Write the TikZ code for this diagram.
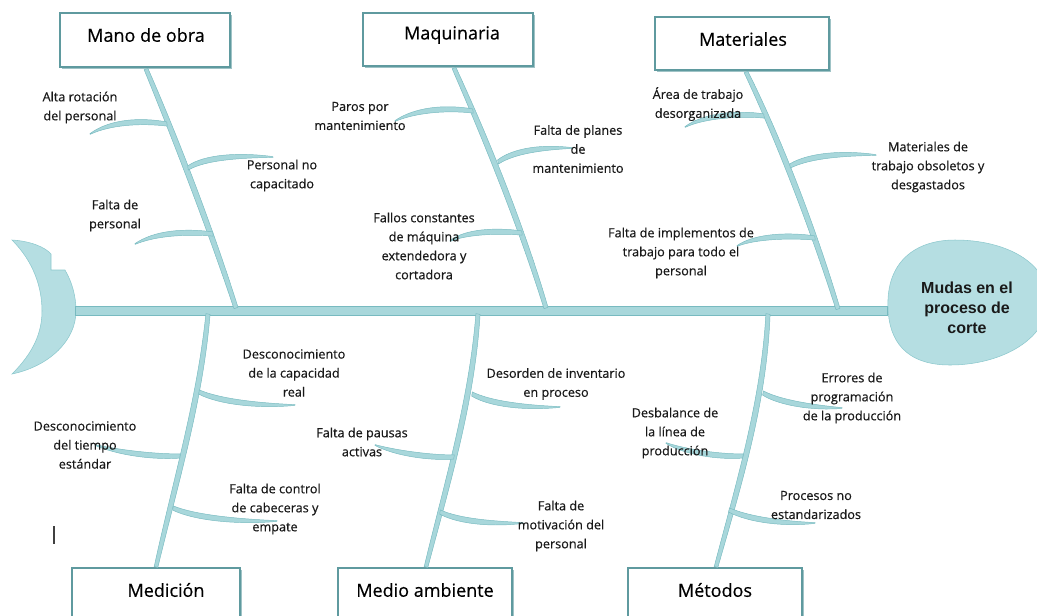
\documentclass[tikz,border=0pt]{standalone}
\usepackage{fontspec}
\setmainfont{Open Sans}
\newfontfamily\causefont[FakeBold=0.5]{Open Sans}
\newfontfamily\headfont{Liberation Sans}
\usetikzlibrary{calc,shadows}
\definecolor{bonefill}{HTML}{A8D7DB}
\definecolor{boneedge}{HTML}{78BAC0}
\definecolor{boxedge}{HTML}{5F9A9F}
\definecolor{shadowc}{HTML}{9FC3C6}
\definecolor{shapefill}{HTML}{B5DEE2}
\definecolor{shapeedge}{HTML}{8CC8CD}
\tikzset{
  bonestyle/.style={fill=bonefill, draw=boneedge, line width=0.35pt, line join=round},
  catbox/.style={rectangle, draw=boxedge, line width=1.1pt, fill=white, inner sep=0pt,
    drop shadow={shadow xshift=1.6pt, shadow yshift=-1.6pt, fill=shadowc, opacity=1}},
  cattext/.style={font=\causefont\fontsize{13.5}{16}\selectfont, inner sep=0pt, text=black},
  cause/.style={font=\causefont\fontsize{9.5}{14.25}\selectfont, align=center, inner sep=0pt, text=black!90},
  headtext/.style={font=\headfont\bfseries\fontsize{12}{15}\selectfont, align=center, inner sep=0pt, text=black!90},
  shapestyle/.style={fill=shapefill, draw=shapeedge, line width=0.4pt},
  spinestyle/.style={draw=boneedge, line width=7pt},
  spinefill/.style={draw=bonefill, line width=5.8pt},
}
% bone: P, C1, C2, Q, half width at P, at controls, at Q (pt)
\newcommand\bone[7]{%
  \filldraw[bonestyle] let \p1=($(#4)-(#1)$), \n1={veclen(\x1,\y1)},
    \p2=({-\y1/\n1},{\x1/\n1}) in
    ($(#1)+#5*(\p2)$) .. controls ($(#2)+#6*(\p2)$) and ($(#3)+#6*(\p2)$) .. ($(#4)+#7*(\p2)$)
    -- ($(#4)-#7*(\p2)$) .. controls ($(#3)-#6*(\p2)$) and ($(#2)-#6*(\p2)$) .. ($(#1)-#5*(\p2)$) -- cycle;}

\begin{document}
\begin{tikzpicture}[x=0.75pt,y=-0.75pt]
\useasboundingbox (0,0) rectangle (1037,615);
\clip (0,0) rectangle (1037,615);

% tail
\path[shapestyle] (12,240) .. controls (30,241) and (45,247) .. (51,254) -- (51,270) -- (65,270)
  .. controls (72,282) and (76,296) .. (76,311) .. controls (76,340) and (50,366) .. (12,374)
  .. controls (34,352) and (42,332) .. (42,311) .. controls (42,288) and (34,262) .. (12,240) -- cycle;
\coordinate (tailend) at (75,311);

% head
\path[shapestyle] (888,308) .. controls (886,262) and (915,240) .. (955,240)
  .. controls (1005,240) and (1048,262) .. (1048,300) .. controls (1048,340) and (1000,365) .. (950,365)
  .. controls (905,365) and (889,340) .. (888,308) -- cycle;
\coordinate (headleft) at (888,311);
\node[headtext] (head) at (967,308) {Mudas en el\\proceso de\\corte};

% spine
\draw[spinestyle] (tailend) -- (headleft);
\draw[spinefill] ($(tailend)+(1,0)$) -- ($(headleft)+(-1,0)$);

% category boxes
\node[catbox, minimum width=127.5pt, minimum height=40.5pt] (b1) at (145,40) {};
\node[catbox, minimum width=127.5pt, minimum height=39.75pt] (b2) at (448,39.5) {};
\node[catbox, minimum width=130.5pt, minimum height=39.75pt] (b3) at (742,43.5) {};
\node[catbox, minimum width=126pt, minimum height=46.5pt] (b4) at (156,599) {};
\node[catbox, minimum width=130.5pt, minimum height=46.5pt] (b5) at (425,599) {};
\node[catbox, minimum width=130.5pt, minimum height=46.5pt] (b6) at (715,599) {};
\node[cattext] (b1t) at (146,35) {Mano de obra};
\node[cattext] (b2t) at (452,35) {Maquinaria};
\node[cattext] (b3t) at (743,39) {Materiales};
\node[cattext] (b4t) at (166,590) {Medición};
\node[cattext] (b5t) at (425,590) {Medio ambiente};
\node[cattext] (b6t) at (715,590) {Métodos};

% main bone end points
\coordinate (m1a) at (146,69);  \coordinate (m1b) at (236,308);
\coordinate (m2a) at (454,68);  \coordinate (m2b) at (546,308);
\coordinate (m3a) at (746,72);  \coordinate (m3b) at (838,309);
\coordinate (m4a) at (208,314); \coordinate (m4b) at (156,567);
\coordinate (m5a) at (478,314); \coordinate (m5b) at (426,567);
\coordinate (m6a) at (768,314); \coordinate (m6b) at (716,567);

\bone{m1a}{174,135}{209,225}{m1b}{1.5}{2.2}{1.6}
\bone{m2a}{484,135}{520,222}{m2b}{1.5}{2.2}{1.6}
\bone{m3a}{778,138}{812,225}{m3b}{1.5}{2.2}{1.6}
\bone{m4a}{200,400}{176,480}{m4b}{1.6}{2.2}{1.4}
\bone{m5a}{472,400}{448,480}{m5b}{1.6}{2.2}{1.4}
\bone{m6a}{764,400}{740,480}{m6b}{1.6}{2.2}{1.4}

% sub bones: junction and free end
\coordinate (s1a) at (167,124);  \coordinate (s1b) at (90,134);
\coordinate (s2a) at (188,168);  \coordinate (s2b) at (273,157);
\coordinate (s3a) at (213,234);  \coordinate (s3b) at (135,244);
\coordinate (s4a) at (473,111);  \coordinate (s4b) at (395,121);
\coordinate (s5a) at (498,162);  \coordinate (s5b) at (572,148);
\coordinate (s6a) at (522,233);  \coordinate (s6b) at (450,241);
\coordinate (s7a) at (764,116);  \coordinate (s7b) at (685,127);
\coordinate (s8a) at (790,166);  \coordinate (s8b) at (876,155);
\coordinate (s9a) at (815,238);  \coordinate (s9b) at (737,246);
\coordinate (s10a) at (199,392); \coordinate (s10b) at (295,405);
\coordinate (s11a) at (180,456); \coordinate (s11b) at (95,445);
\coordinate (s12a) at (173,508); \coordinate (s12b) at (277,521);
\coordinate (s13a) at (472,394); \coordinate (s13b) at (560,407);
\coordinate (s14a) at (454,457); \coordinate (s14b) at (375,445);
\coordinate (s15a) at (440,512); \coordinate (s15b) at (523,523);
\coordinate (s16a) at (763,393); \coordinate (s16b) at (842,408);
\coordinate (s17a) at (743,456); \coordinate (s17b) at (666,443);
\coordinate (s18a) at (729,510); \coordinate (s18b) at (815,523);

\bone{s1a}{140,120}{110,122}{s1b}{1.6}{2.2}{0.3}
\bone{s2a}{205,157}{240,155}{s2b}{1.6}{2.2}{0.3}
\bone{s3a}{185,231}{155,233}{s3b}{1.6}{2.2}{0.3}
\bone{s4a}{445,107}{415,110}{s4b}{1.6}{2.2}{0.3}
\bone{s5a}{515,150}{545,147}{s5b}{1.6}{2.2}{0.3}
\bone{s6a}{495,230}{465,232}{s6b}{1.6}{2.2}{0.3}
\bone{s7a}{740,113}{705,115}{s7b}{1.6}{2.2}{0.3}
\bone{s8a}{810,155}{845,153}{s8b}{1.6}{2.2}{0.3}
\bone{s9a}{790,235}{755,236}{s9b}{1.6}{2.2}{0.3}
\bone{s10a}{220,402}{260,406}{s10b}{1.6}{2.2}{0.3}
\bone{s11a}{155,457}{120,453}{s11b}{1.6}{2.2}{0.3}
\bone{s12a}{195,518}{240,522}{s12b}{1.6}{2.2}{0.3}
\bone{s13a}{490,404}{525,408}{s13b}{1.6}{2.2}{0.3}
\bone{s14a}{430,458}{395,453}{s14b}{1.6}{2.2}{0.3}
\bone{s15a}{460,522}{495,524}{s15b}{1.6}{2.2}{0.3}
\bone{s16a}{780,403}{815,408}{s16b}{1.6}{2.2}{0.3}
\bone{s17a}{718,457}{685,452}{s17b}{1.6}{2.2}{0.3}
\bone{s18a}{750,520}{785,524}{s18b}{1.6}{2.2}{0.3}

% cause labels
\node[cause] (t1) at (80,107.5) {Alta rotación\\del personal};
\node[cause] (t2) at (282,175.5) {Personal no\\capacitado};
\node[cause] (t3) at (115,215.5) {Falta de\\personal};
\node[cause] (t4) at (360,116) {Paros por\\mantenimiento};
\node[cause] (t5) at (578,149) {Falta de planes\\de\\mantenimiento};
\node[cause] (t6) at (424,246) {Fallos constantes\\de máquina\\extendedora y\\cortadora};
\node[cause] (t7) at (698,104) {Área de trabajo\\desorganizada};
\node[cause] (t8) at (928,167) {Materiales de\\trabajo obsoletos y\\desgastados};
\node[cause] (t9) at (681,253) {Falta de implementos de\\trabajo para todo el\\personal};
\node[cause] (t10) at (294,373) {Desconocimiento\\de la capacidad\\real};
\node[cause] (t11) at (85,445) {Desconocimiento\\del tiempo\\estándar};
\node[cause] (t12) at (275,509) {Falta de control\\de cabeceras y\\empate};
\node[cause] (t13) at (556,384) {Desorden de inventario\\en proceso};
\node[cause] (t14) at (362,442) {Falta de pausas\\activas};
\node[cause] (t15) at (561,526) {Falta de\\motivación del\\personal};
\node[cause] (t16) at (852,398) {Errores de\\programación\\de la producción};
\node[cause] (t17) at (675,433) {Desbalance de\\la línea de\\producción};
\node[cause] (t18) at (816,505) {Procesos no\\estandarizados};

% text cursor mark
\draw[line width=0.9pt, black!75] (54,526) -- (54,544);
\end{tikzpicture}
\end{document}
